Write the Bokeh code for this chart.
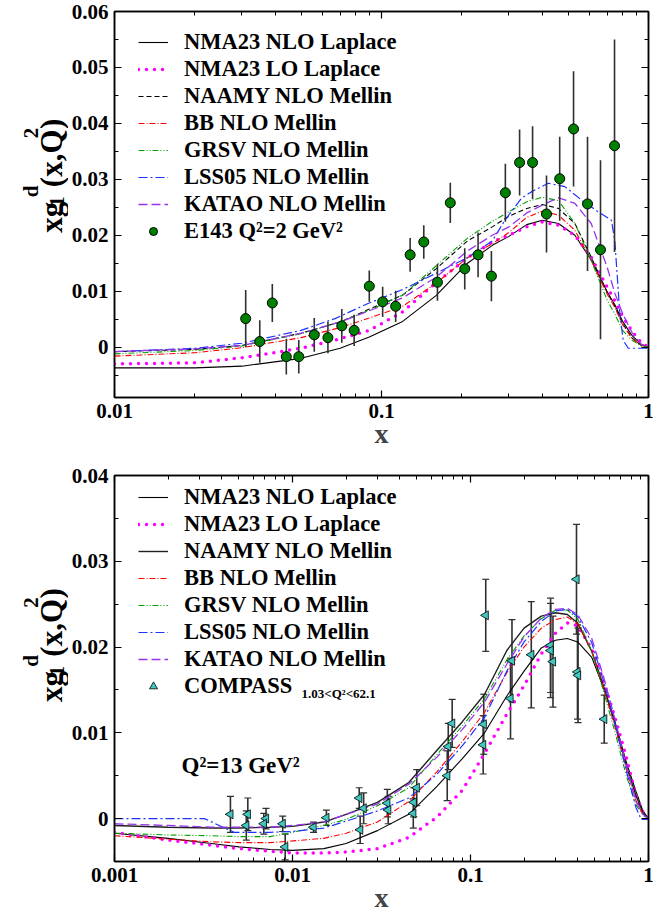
from math import pi
from bokeh.plotting import figure
from bokeh.layouts import column, row
from bokeh.core.properties import value
from bokeh.models import (FixedTicker, CustomJSTickFormatter, LogAxis, LinearAxis, Legend,
                          LegendItem, Label, Range1d, ColumnDataSource, Whisker, TeeHead)
from bokeh.embed import file_html
from bokeh.resources import INLINE

FONT = "Liberation Serif"

# ---------------- data: top panel (Q^2 = 2 GeV^2) ----------------
TOP_X = [0.01, 0.02, 0.03, 0.05, 0.07, 0.09, 0.12, 0.16, 0.21, 0.26, 0.30, 0.35, 0.40,
         0.46, 0.53, 0.61, 0.70, 0.75, 0.80, 0.87, 0.94, 1.0]
TOP_NMA_NLO = [-0.0037, -0.0037, -0.0034, -0.0020, -0.0002, 0.0018, 0.0046, 0.0092, 0.0150,
               0.0182, 0.0198, 0.0219, 0.0227, 0.0221, 0.0200, 0.0156, 0.0099, 0.0075,
               0.0046, 0.0020, 0.0005, 0.0]
TOP_NMA_LO = [-0.0030, -0.0028, -0.0019, -0.0002, 0.0015, 0.0030, 0.0063, 0.0115, 0.0160,
              0.0188, 0.0200, 0.0215, 0.0224, 0.0218, 0.0200, 0.0161, 0.0107, 0.0082,
              0.0055, 0.0028, 0.0008, 0.0]
TOP_NAAMY = [-0.0008, -0.0004, 0.0003, 0.0025, 0.0045, 0.0068, 0.0093, 0.0140, 0.0190,
             0.0215, 0.0234, 0.0248, 0.0255, 0.0248, 0.0221, 0.0161, 0.0098, 0.0072,
             0.0042, 0.0016, 0.0003, 0.0]
TOP_BB = [-0.0016, -0.0010, -0.0001, 0.0017, 0.0035, 0.0052, 0.0073, 0.0114, 0.0160,
          0.0185, 0.0205, 0.0232, 0.0243, 0.0236, 0.0209, 0.0155, 0.0095, 0.0070,
          0.0040, 0.0015, 0.0003, 0.0]
TOP_GRSV = [-0.0012, -0.0006, 0.0002, 0.0024, 0.0045, 0.0066, 0.0093, 0.0145, 0.0195,
            0.0225, 0.0242, 0.0260, 0.0268, 0.0262, 0.0221, 0.0155, 0.0084, 0.0058,
            0.0030, 0.0012, 0.0002, 0.0]
TOP_KATAO = [-0.0008, -0.0003, 0.0003, 0.0025, 0.0045, 0.0065, 0.0088, 0.0125, 0.0172,
             0.0200, 0.0215, 0.0240, 0.0254, 0.0267, 0.0257, 0.0221, 0.0143, 0.0095,
             0.0060, 0.0025, 0.0005, 0.0]
TOP_LSS_X = [0.01, 0.02, 0.03, 0.05, 0.067, 0.089, 0.12, 0.16, 0.21, 0.26, 0.29, 0.334,
             0.365, 0.421, 0.486, 0.561, 0.647, 0.726, 0.748, 0.781, 0.804, 0.84, 1.0]
TOP_LSS = [-0.0008, -0.0002, 0.0007, 0.0030, 0.0051, 0.0078, 0.0103, 0.0132, 0.0160,
           0.0190, 0.0227, 0.0266, 0.0278, 0.0293, 0.0287, 0.0263, 0.0242, 0.0227,
           0.0190, 0.0060, 0.0012, -0.0002, -0.0002]

E143_X = [0.031, 0.035, 0.039, 0.044, 0.049, 0.056, 0.063, 0.071, 0.079, 0.090, 0.101,
          0.113, 0.128, 0.144, 0.162, 0.181, 0.205, 0.230, 0.258, 0.291, 0.329, 0.368,
          0.415, 0.465, 0.524, 0.591, 0.661, 0.746]
E143_Y = [0.0051, 0.0010, 0.0079, -0.0017, -0.0017, 0.0022, 0.0017, 0.0038, 0.0030,
          0.0109, 0.0081, 0.0073, 0.0165, 0.0188, 0.0116, 0.0258, 0.0140, 0.0165,
          0.0127, 0.0276, 0.0330, 0.0330, 0.0238, 0.0301, 0.0390, 0.0256, 0.0174, 0.0360]
E143_ERR = [0.0051, 0.0038, 0.0034, 0.0032, 0.0030, 0.0030, 0.0028, 0.0030, 0.0028,
            0.0028, 0.0027, 0.0028, 0.0030, 0.0030, 0.0033, 0.0036, 0.0037, 0.0040,
            0.0045, 0.0052, 0.0059, 0.0065, 0.0069, 0.0075, 0.0103, 0.0120, 0.0160, 0.0190]

# ---------------- data: bottom panel (Q^2 = 13 GeV^2) ----------------
BOT_X = [0.001, 0.002, 0.0035, 0.005, 0.0075, 0.01, 0.015, 0.02, 0.03, 0.045, 0.065,
         0.09, 0.12, 0.16, 0.2, 0.25, 0.3, 0.35, 0.4, 0.48, 0.56, 0.65, 0.75, 0.85, 0.93, 1.0]
BOT_NMA_NLO = [-0.0017, -0.0023, -0.0029, -0.0033, -0.0036, -0.0037, -0.0035, -0.0029,
               -0.0014, 0.0005, 0.0038, 0.0070, 0.0100, 0.0143, 0.0172, 0.0199, 0.0208,
               0.0210, 0.0206, 0.0188, 0.0152, 0.0112, 0.0066, 0.0032, 0.0009, 0.0]
BOT_NMA_LO = [-0.0016, -0.0025, -0.0031, -0.0035, -0.0038, -0.0040, -0.0040, -0.0039,
              -0.0035, -0.0022, 0.0002, 0.0033, 0.0076, 0.0122, 0.0155, 0.0192, 0.0216,
              0.0228, 0.0225, 0.0198, 0.0160, 0.0117, 0.0072, 0.0027, 0.0008, 0.0]
BOT_NAAMY = [-0.0008, -0.0010, -0.0011, -0.0011, -0.0010, -0.0009, -0.0004, 0.0005,
             0.0019, 0.0042, 0.0080, 0.0113, 0.0145, 0.0196, 0.0222, 0.0236, 0.0240,
             0.0238, 0.0228, 0.0195, 0.0154, 0.0110, 0.0062, 0.0027, 0.0007, 0.0]
BOT_BB = [-0.0020, -0.0024, -0.0027, -0.0028, -0.0028, -0.0026, -0.0023, -0.0017,
          -0.0004, 0.0020, 0.0055, 0.0090, 0.0124, 0.0170, 0.0200, 0.0222, 0.0232,
          0.0235, 0.0227, 0.0195, 0.0152, 0.0106, 0.0058, 0.0021, 0.0005, 0.0]
BOT_GRSV = [-0.0017, -0.0019, -0.0020, -0.0021, -0.0021, -0.0016, -0.0008, -0.0001,
            0.0015, 0.0036, 0.0075, 0.0108, 0.0140, 0.0185, 0.0213, 0.0233, 0.0243,
            0.0243, 0.0233, 0.0195, 0.0148, 0.0100, 0.0050, 0.0016, 0.0004, 0.0]
BOT_KATAO = [-0.0006, -0.0008, -0.0010, -0.0010, -0.0010, -0.0008, -0.0004, 0.0005,
             0.0017, 0.0040, 0.0072, 0.0104, 0.0136, 0.0180, 0.0212, 0.0234, 0.0244,
             0.0245, 0.0238, 0.0210, 0.0165, 0.0115, 0.0062, 0.0020, 0.0005, 0.0]
BOT_LSS_X = [0.001, 0.002, 0.0032, 0.0047, 0.0075, 0.01, 0.015, 0.02, 0.03, 0.045, 0.065,
             0.09, 0.12, 0.16, 0.2, 0.25, 0.3, 0.35, 0.4, 0.48, 0.56, 0.65, 0.75, 0.85,
             0.91, 1.0]
BOT_LSS = [0.0000, 0.0000, 0.0000, -0.0016, -0.0016, -0.0015, -0.0011, -0.0003, 0.0009,
           0.0024, 0.0052, 0.0085, 0.0118, 0.0172, 0.0206, 0.0230, 0.0242, 0.0244,
           0.0236, 0.0205, 0.0160, 0.0110, 0.0056, 0.0013, -0.0001, -0.0001]

COMPASS_X = [0.00448, 0.00561, 0.00550, 0.0071, 0.0069, 0.00881, 0.0091, 0.01313, 0.0155,
             0.0237, 0.0240, 0.0251, 0.0341, 0.0345, 0.0499, 0.0480, 0.0477, 0.0750,
             0.0789, 0.0740, 0.1187, 0.1178, 0.1218, 0.171, 0.1678, 0.2195, 0.2818,
             0.2818, 0.2906, 0.394, 0.399, 0.402, 0.564]
COMPASS_Y = [0.0005, 0.0005, -0.0008, 0.0000, -0.0006, -0.0006, -0.0033, -0.0010, 0.0001,
             0.0024, -0.0013, 0.0012, 0.0018, 0.0010, 0.0036, 0.0019, 0.0006, 0.0084,
             0.0111, 0.0050, 0.0110, 0.0086, 0.0237, 0.0184, 0.0140, 0.0191, 0.0202,
             0.0196, 0.0183, 0.0279, 0.0171, 0.0167, 0.0116]
COMPASS_ERR = [0.0021, 0.0019, 0.0017, 0.0012, 0.0012, 0.0009, 0.0015, 0.0006, 0.0009,
               0.0012, 0.0016, 0.0018, 0.0016, 0.0016, 0.0021, 0.0017, 0.0017, 0.0027,
               0.0028, 0.0029, 0.0035, 0.0034, 0.0042, 0.0048, 0.0047, 0.0062, 0.0055,
               0.0055, 0.0053, 0.0064, 0.0055, 0.0055, 0.0028]

LEGEND_LABELS = ["NMA23 NLO Laplace", "NMA23 LO Laplace", "NAAMY NLO Mellin", "BB NLO Mellin",
                 "GRSV NLO Mellin", "LSS05 NLO Mellin", "KATAO NLO Mellin"]
TOP_DATA_LABEL = "E143 Q\u00b2=2 GeV\u00b2"
BOT_DATA_LABEL = "COMPASS"
BOT_DATA_SUB = "1.03<Q\u00b2<62.1"
BOT_NOTE = "Q\u00b2=13 GeV\u00b2"
YLABEL_PARTS = ["xg", "1", "d", "(x,Q", "2", ")"]

LABEL_W = 68


def style_axis(ax, labels=True):
    ax.axis_line_width = 1.5
    ax.axis_line_color = "black"
    ax.major_tick_in = 7
    ax.major_tick_out = 0
    ax.minor_tick_in = 4
    ax.minor_tick_out = 0
    ax.major_tick_line_width = 1.2
    ax.minor_tick_line_width = 1.0
    if labels:
        ax.major_label_text_font = FONT
        ax.major_label_text_font_style = "bold"
        ax.major_label_text_font_size = "21px"
        ax.major_label_text_color = "black"
    else:
        ax.major_label_text_font_size = "0px"
        ax.major_label_standoff = 0


def make_fig(xmin, yr, yticks, ymin_minor, border_top, border_bottom):
    p = figure(x_axis_type="log", x_range=Range1d(xmin, 1.0), y_range=Range1d(*yr),
               frame_width=534, frame_height=386, output_backend="svg", toolbar_location=None,
               min_border_left=113 - LABEL_W, min_border_right=25, min_border_top=border_top,
               min_border_bottom=border_bottom, background_fill_color="white",
               border_fill_color="white", outline_line_color="black", outline_line_width=1.5)
    p.grid.visible = False
    decades = []
    d = xmin
    while d < 0.99:
        decades.append(d)
        d *= 10
    majors = decades + [1.0]
    minors = [round(m * k, 6) for m in decades for k in range(2, 10)]
    xt = FixedTicker(ticks=majors, minor_ticks=minors)
    ymin_ticks = []
    v = ymin_minor
    while v < yr[1] + 1e-9:
        ymin_ticks.append(round(v, 4))
        v += 0.005
    yt = FixedTicker(ticks=yticks, minor_ticks=ymin_ticks)

    xa = p.below[0]
    xa.ticker = xt
    xa.formatter = CustomJSTickFormatter(code="return String(tick);")
    style_axis(xa)
    xa.major_label_standoff = 6
    xa.axis_label = "x"
    xa.axis_label_text_font = FONT
    xa.axis_label_text_font_style = "bold"
    xa.axis_label_text_font_size = "28px"
    xa.axis_label_standoff = -3

    ya = p.left[0]
    ya.ticker = yt
    ya.formatter = CustomJSTickFormatter(code="return Math.abs(tick) < 1e-9 ? '0' : tick.toFixed(2);")
    style_axis(ya)
    ya.major_label_standoff = 6

    top = LogAxis(ticker=xt, formatter=CustomJSTickFormatter(code="return '';"))
    style_axis(top, labels=False)
    p.add_layout(top, "above")
    right = LinearAxis(ticker=yt, formatter=CustomJSTickFormatter(code="return '';"))
    style_axis(right, labels=False)
    p.add_layout(right, "right")
    return p


def label_fig(shift):
    # narrow strip left of the plot that carries the rotated y title  x g_1^d (x,Q^2)
    f = figure(width=LABEL_W, height=457, x_range=Range1d(0, LABEL_W), y_range=Range1d(457, 0),
               min_border=0, toolbar_location=None, output_backend="svg",
               x_axis_location=None, y_axis_location=None, outline_line_color=None,
               background_fill_color="white", border_fill_color="white")
    f.grid.visible = False
    xs = [51, 56, 30, 51, 30, 51]
    ys = [262, 231, 220, 208, 150, 139]
    sizes = ["31px", "20px", "21px", "31px", "21px", "31px"]
    for t, xx, yy, fs in zip(YLABEL_PARTS, xs, ys, sizes):
        f.text(x=[xx], y=[yy + shift], text=[t], angle=pi / 2, text_font=value(FONT),
               text_font_style="bold", text_font_size=value(fs), text_align="left",
               text_baseline="alphabetic", text_color="black")
    return f


STYLES = [
    dict(line_color="black", line_width=1.1),
    dict(line_color="#ff00ff", line_width=3.5, line_dash="0 8", line_cap="round"),
    None,  # NAAMY differs between panels
    dict(line_color="#ff0000", line_width=1.1, line_dash="6 2 1 2"),
    dict(line_color="#00a000", line_width=1.1, line_dash="6 2 1 2 1 2"),
    dict(line_color="#1a33ff", line_width=1.2, line_dash="9 3 2 3"),
    dict(line_color="#9933ee", line_width=1.3, line_dash="9 4"),
]


def add_legend(p, renderers, labels, y_loc):
    items = [LegendItem(label=l, renderers=[r]) for l, r in zip(labels, renderers)]
    lg = Legend(items=items, location=(24, y_loc), padding=0, margin=0, spacing=1,
                glyph_width=30, glyph_height=20, label_height=20, label_standoff=16,
                label_text_font=FONT, label_text_font_style="bold", label_text_font_size="22.5px",
                label_text_color="black", border_line_color=None, background_fill_alpha=0)
    p.add_layout(lg)


# ---------------- top panel ----------------
p1 = make_fig(0.01, (-0.009, 0.06), [0, 0.01, 0.02, 0.03, 0.04, 0.05, 0.06], -0.005, 11, 60)
top_curves = [(TOP_X, TOP_NMA_NLO), (TOP_X, TOP_NMA_LO), (TOP_X, TOP_NAAMY), (TOP_X, TOP_BB),
              (TOP_X, TOP_GRSV), (TOP_LSS_X, TOP_LSS), (TOP_X, TOP_KATAO)]
rs1 = []
for i, (xs, ys) in enumerate(top_curves):
    st = STYLES[i] or dict(line_color="black", line_width=1.1, line_dash="5 3")
    rs1.append(p1.line(xs, ys, **st))
lo = [y - e for y, e in zip(E143_Y, E143_ERR)]
hi = [y + e for y, e in zip(E143_Y, E143_ERR)]
p1.segment(x0=E143_X, y0=lo, x1=E143_X, y1=hi, line_color="#303030", line_width=1.6)
rs1.append(p1.scatter(E143_X, E143_Y, marker="circle", size=10, fill_color="#008000",
                      line_color="black", line_width=1))
add_legend(p1, rs1, LEGEND_LABELS + [TOP_DATA_LABEL], 153)

# ---------------- bottom panel ----------------
p2 = make_fig(0.001, (-0.005, 0.04), [0, 0.01, 0.02, 0.03, 0.04], -0.005, 18, 53)
bot_curves = [(BOT_X, BOT_NMA_NLO), (BOT_X, BOT_NMA_LO), (BOT_X, BOT_NAAMY), (BOT_X, BOT_BB),
              (BOT_X, BOT_GRSV), (BOT_LSS_X, BOT_LSS), (BOT_X, BOT_KATAO)]
rs2 = []
for i, (xs, ys) in enumerate(bot_curves):
    st = STYLES[i] or dict(line_color="#202020", line_width=1.4)
    rs2.append(p2.line(xs, ys, **st))
src = ColumnDataSource(dict(x=COMPASS_X, y=COMPASS_Y,
                            lo=[y - e for y, e in zip(COMPASS_Y, COMPASS_ERR)],
                            hi=[y + e for y, e in zip(COMPASS_Y, COMPASS_ERR)]))
wh = Whisker(source=src, base="x", upper="hi", lower="lo", dimension="height",
             line_color="#303030", line_width=1.6,
             upper_head=TeeHead(size=7, line_color="#303030", line_width=1.2),
             lower_head=TeeHead(size=7, line_color="#303030", line_width=1.2))
p2.add_layout(wh)
rs2.append(p2.scatter("x", "y", source=src, marker="triangle", angle=pi / 2, size=9,
                      fill_color="#40c8c0", line_color="black", line_width=0.8))
add_legend(p2, rs2, LEGEND_LABELS + [BOT_DATA_LABEL], 162)
p2.add_layout(Label(x=300 - 113, y=861 - 693, x_units="screen", y_units="screen",
                    text=BOT_DATA_SUB, text_font=FONT, text_font_style="bold",
                    text_font_size="13px", text_baseline="alphabetic", text_color="black"))
p2.add_layout(Label(x=180 - 113, y=861 - 765, x_units="screen", y_units="screen",
                    text=BOT_NOTE, text_font=FONT, text_font_style="bold",
                    text_font_size="23px", text_baseline="alphabetic", text_color="black"))

layout = column(row(label_fig(0), p1, spacing=0), row(label_fig(7), p2, spacing=0), spacing=0)
open("out.html", "w").write(file_html(layout, INLINE))
